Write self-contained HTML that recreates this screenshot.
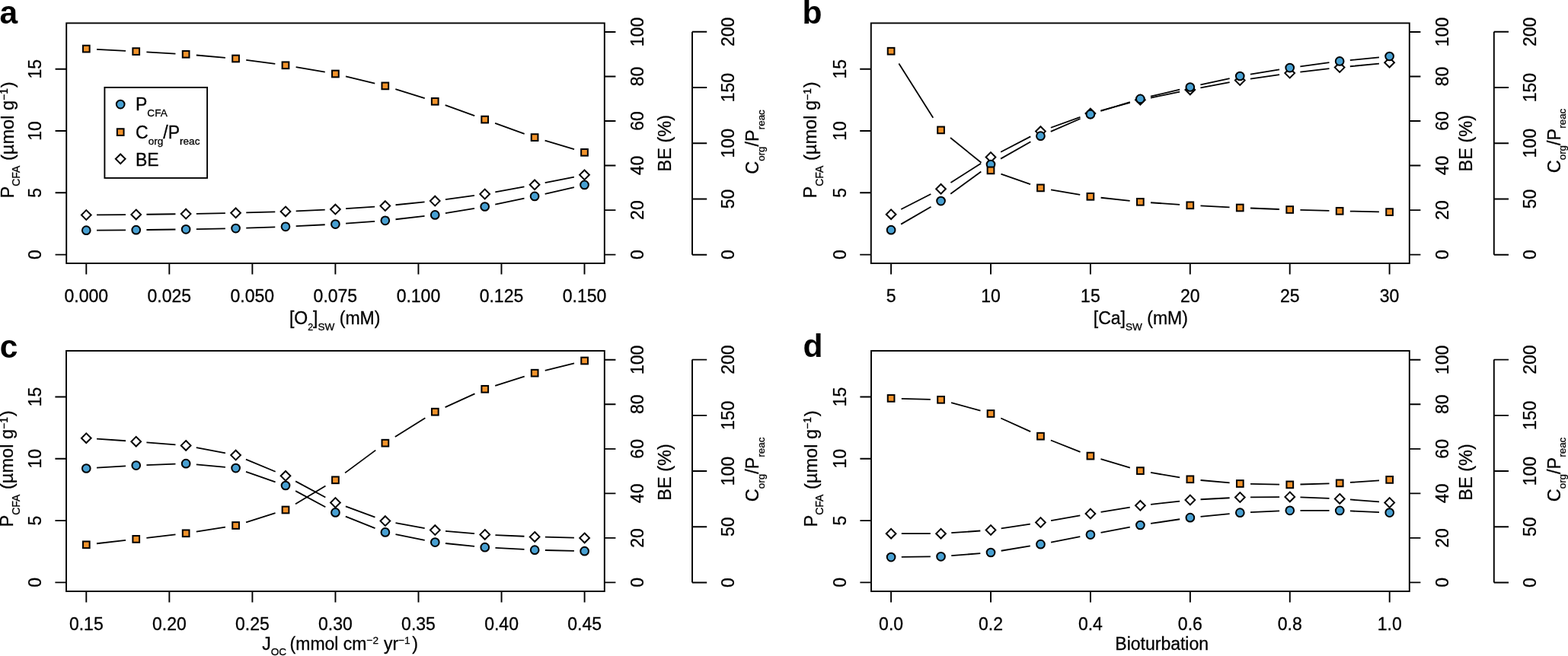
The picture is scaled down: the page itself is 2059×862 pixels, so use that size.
<!DOCTYPE html>
<html><head><meta charset="utf-8"><title>Figure</title>
<style>html,body{margin:0;padding:0;background:#fff;}svg{display:block;}text{font-family:"Liberation Sans",sans-serif;fill:#000;stroke:#000;stroke-width:0.3px;}.t{font-size:23.0px;}.s{font-size:13.6px;}.lab{font-size:42.5px;font-weight:bold;stroke:none;}</style>
</head><body>
<svg width="2059" height="862" viewBox="0 0 2059 862">
<rect width="2059" height="862" fill="#fff"/>
<g id="panel-a">
<rect x="87.2" y="30.4" width="706.6" height="315.6" fill="none" stroke="#000" stroke-width="1.9"/>
<path d="M72.6 334.6H87.2M72.6 253.3H87.2M72.6 172H87.2M72.6 90.7H87.2M793.8 334.6H808.4M793.8 276.08H808.4M793.8 217.56H808.4M793.8 159.04H808.4M793.8 100.52H808.4M793.8 42H808.4M909 334.7V41.8M909 334.7H928.2M909 261.48H928.2M909 188.25H928.2M909 115.03H928.2M909 41.8H928.2M113.3 346V360.6M222.33 346V360.6M331.37 346V360.6M440.4 346V360.6M549.43 346V360.6M658.47 346V360.6M767.5 346V360.6" fill="none" stroke="#000" stroke-width="1.9"/>
<text class="t" text-anchor="middle" transform="translate(54.2 334.6) rotate(-90)">0</text>
<text class="t" text-anchor="middle" transform="translate(54.2 253.3) rotate(-90)">5</text>
<text class="t" text-anchor="middle" transform="translate(54.2 172) rotate(-90)">10</text>
<text class="t" text-anchor="middle" transform="translate(54.2 90.7) rotate(-90)">15</text>
<text class="t" text-anchor="middle" transform="translate(844.6 334.6) rotate(-90)">0</text>
<text class="t" text-anchor="middle" transform="translate(844.6 276.08) rotate(-90)">20</text>
<text class="t" text-anchor="middle" transform="translate(844.6 217.56) rotate(-90)">40</text>
<text class="t" text-anchor="middle" transform="translate(844.6 159.04) rotate(-90)">60</text>
<text class="t" text-anchor="middle" transform="translate(844.6 100.52) rotate(-90)">80</text>
<text class="t" text-anchor="middle" transform="translate(844.6 42) rotate(-90)">100</text>
<text class="t" text-anchor="middle" transform="translate(964 334.7) rotate(-90)">0</text>
<text class="t" text-anchor="middle" transform="translate(964 261.48) rotate(-90)">50</text>
<text class="t" text-anchor="middle" transform="translate(964 188.25) rotate(-90)">100</text>
<text class="t" text-anchor="middle" transform="translate(964 115.03) rotate(-90)">150</text>
<text class="t" text-anchor="middle" transform="translate(964 41.8) rotate(-90)">200</text>
<text class="t" text-anchor="middle" x="113.3" y="396.6">0.000</text>
<text class="t" text-anchor="middle" x="222.33" y="396.6">0.025</text>
<text class="t" text-anchor="middle" x="331.37" y="396.6">0.050</text>
<text class="t" text-anchor="middle" x="440.4" y="396.6">0.075</text>
<text class="t" text-anchor="middle" x="549.43" y="396.6">0.100</text>
<text class="t" text-anchor="middle" x="658.47" y="396.6">0.125</text>
<text class="t" text-anchor="middle" x="767.5" y="396.6">0.150</text>
<path d="M127 282.37L165.02 282.03M192.42 281.73L230.44 281.27M257.84 280.83L295.86 280.07M323.26 279.4L361.28 278.3M388.68 277.31L426.7 275.69M454.09 274.16L492.13 271.54M519.5 269.24L557.56 265.46M584.9 262.2L623 256.9M650.29 252.46L688.45 245.34M715.7 240.09L753.88 232.51" fill="none" stroke="#000" stroke-width="1.8" stroke-linecap="butt"/>
<path d="M113.3 276.15L119.65 282.5L113.3 288.85L106.95 282.5Z" fill="#fff" stroke="#000" stroke-width="2.0" stroke-miterlimit="4"/>
<path d="M178.72 275.55L185.07 281.9L178.72 288.25L172.37 281.9Z" fill="#fff" stroke="#000" stroke-width="2.0" stroke-miterlimit="4"/>
<path d="M244.14 274.75L250.49 281.1L244.14 287.45L237.79 281.1Z" fill="#fff" stroke="#000" stroke-width="2.0" stroke-miterlimit="4"/>
<path d="M309.56 273.45L315.91 279.8L309.56 286.15L303.21 279.8Z" fill="#fff" stroke="#000" stroke-width="2.0" stroke-miterlimit="4"/>
<path d="M374.98 271.55L381.33 277.9L374.98 284.25L368.63 277.9Z" fill="#fff" stroke="#000" stroke-width="2.0" stroke-miterlimit="4"/>
<path d="M440.4 268.75L446.75 275.1L440.4 281.45L434.05 275.1Z" fill="#fff" stroke="#000" stroke-width="2.0" stroke-miterlimit="4"/>
<path d="M505.82 264.25L512.17 270.6L505.82 276.95L499.47 270.6Z" fill="#fff" stroke="#000" stroke-width="2.0" stroke-miterlimit="4"/>
<path d="M571.24 257.75L577.59 264.1L571.24 270.45L564.89 264.1Z" fill="#fff" stroke="#000" stroke-width="2.0" stroke-miterlimit="4"/>
<path d="M636.66 248.65L643.01 255L636.66 261.35L630.31 255Z" fill="#fff" stroke="#000" stroke-width="2.0" stroke-miterlimit="4"/>
<path d="M702.08 236.45L708.43 242.8L702.08 249.15L695.73 242.8Z" fill="#fff" stroke="#000" stroke-width="2.0" stroke-miterlimit="4"/>
<path d="M767.5 223.45L773.85 229.8L767.5 236.15L761.15 229.8Z" fill="#fff" stroke="#000" stroke-width="2.0" stroke-miterlimit="4"/>
<path d="M127 302.6L165.02 302.3M192.42 302.01L230.44 301.49M257.84 301.05L295.86 300.35M323.26 299.62L361.28 298.28M388.67 297.13L426.71 295.27M454.09 293.6L492.13 290.8M519.49 288.25L557.57 283.95M584.88 280.13L623.02 273.77M650.27 268.67L688.47 260.73M715.67 254.78L753.91 246.02" fill="none" stroke="#000" stroke-width="1.8" stroke-linecap="butt"/>
<circle cx="113.3" cy="302.7" r="5.35" fill="#48a0d2" stroke="#000" stroke-width="2.0"/>
<circle cx="178.72" cy="302.2" r="5.35" fill="#48a0d2" stroke="#000" stroke-width="2.0"/>
<circle cx="244.14" cy="301.3" r="5.35" fill="#48a0d2" stroke="#000" stroke-width="2.0"/>
<circle cx="309.56" cy="300.1" r="5.35" fill="#48a0d2" stroke="#000" stroke-width="2.0"/>
<circle cx="374.98" cy="297.8" r="5.35" fill="#48a0d2" stroke="#000" stroke-width="2.0"/>
<circle cx="440.4" cy="294.6" r="5.35" fill="#48a0d2" stroke="#000" stroke-width="2.0"/>
<circle cx="505.82" cy="289.8" r="5.35" fill="#48a0d2" stroke="#000" stroke-width="2.0"/>
<circle cx="571.24" cy="282.4" r="5.35" fill="#48a0d2" stroke="#000" stroke-width="2.0"/>
<circle cx="636.66" cy="271.5" r="5.35" fill="#48a0d2" stroke="#000" stroke-width="2.0"/>
<circle cx="702.08" cy="257.9" r="5.35" fill="#48a0d2" stroke="#000" stroke-width="2.0"/>
<circle cx="767.5" cy="242.9" r="5.35" fill="#48a0d2" stroke="#000" stroke-width="2.0"/>
<path d="M126.99 64.83L165.03 66.87M192.41 68.37L230.45 70.53M257.82 72.49L295.88 75.81M323.22 78.84L361.32 83.96M388.62 88.13L426.76 94.67M453.98 100.3L492.24 109.6M519.32 117.11L557.74 129.09M584.67 138.18L623.23 152.22M650.09 161.92L688.65 175.78M715.59 184.67L753.99 196.23" fill="none" stroke="#000" stroke-width="1.8" stroke-linecap="butt"/>
<rect x="108.95" y="59.75" width="8.7" height="8.7" fill="#f2932b" stroke="#000" stroke-width="2.0"/>
<rect x="174.37" y="63.25" width="8.7" height="8.7" fill="#f2932b" stroke="#000" stroke-width="2.0"/>
<rect x="239.79" y="66.95" width="8.7" height="8.7" fill="#f2932b" stroke="#000" stroke-width="2.0"/>
<rect x="305.21" y="72.65" width="8.7" height="8.7" fill="#f2932b" stroke="#000" stroke-width="2.0"/>
<rect x="370.63" y="81.45" width="8.7" height="8.7" fill="#f2932b" stroke="#000" stroke-width="2.0"/>
<rect x="436.05" y="92.65" width="8.7" height="8.7" fill="#f2932b" stroke="#000" stroke-width="2.0"/>
<rect x="501.47" y="108.55" width="8.7" height="8.7" fill="#f2932b" stroke="#000" stroke-width="2.0"/>
<rect x="566.89" y="128.95" width="8.7" height="8.7" fill="#f2932b" stroke="#000" stroke-width="2.0"/>
<rect x="632.31" y="152.75" width="8.7" height="8.7" fill="#f2932b" stroke="#000" stroke-width="2.0"/>
<rect x="697.73" y="176.25" width="8.7" height="8.7" fill="#f2932b" stroke="#000" stroke-width="2.0"/>
<rect x="763.15" y="195.95" width="8.7" height="8.7" fill="#f2932b" stroke="#000" stroke-width="2.0"/>
</g>
<g id="panel-b">
<rect x="1143.8" y="30.4" width="707" height="315.6" fill="none" stroke="#000" stroke-width="1.9"/>
<path d="M1129.2 334.6H1143.8M1129.2 253.3H1143.8M1129.2 172H1143.8M1129.2 90.7H1143.8M1850.8 334.6H1865.4M1850.8 276.08H1865.4M1850.8 217.56H1865.4M1850.8 159.04H1865.4M1850.8 100.52H1865.4M1850.8 42H1865.4M1961.8 334.7V41.8M1961.8 334.7H1981M1961.8 261.48H1981M1961.8 188.25H1981M1961.8 115.03H1981M1961.8 41.8H1981M1170.1 346V360.6M1301 346V360.6M1431.9 346V360.6M1562.8 346V360.6M1693.7 346V360.6M1824.6 346V360.6" fill="none" stroke="#000" stroke-width="1.9"/>
<text class="t" text-anchor="middle" transform="translate(1110.8 334.6) rotate(-90)">0</text>
<text class="t" text-anchor="middle" transform="translate(1110.8 253.3) rotate(-90)">5</text>
<text class="t" text-anchor="middle" transform="translate(1110.8 172) rotate(-90)">10</text>
<text class="t" text-anchor="middle" transform="translate(1110.8 90.7) rotate(-90)">15</text>
<text class="t" text-anchor="middle" transform="translate(1901.6 334.6) rotate(-90)">0</text>
<text class="t" text-anchor="middle" transform="translate(1901.6 276.08) rotate(-90)">20</text>
<text class="t" text-anchor="middle" transform="translate(1901.6 217.56) rotate(-90)">40</text>
<text class="t" text-anchor="middle" transform="translate(1901.6 159.04) rotate(-90)">60</text>
<text class="t" text-anchor="middle" transform="translate(1901.6 100.52) rotate(-90)">80</text>
<text class="t" text-anchor="middle" transform="translate(1901.6 42) rotate(-90)">100</text>
<text class="t" text-anchor="middle" transform="translate(2016.8 334.7) rotate(-90)">0</text>
<text class="t" text-anchor="middle" transform="translate(2016.8 261.48) rotate(-90)">50</text>
<text class="t" text-anchor="middle" transform="translate(2016.8 188.25) rotate(-90)">100</text>
<text class="t" text-anchor="middle" transform="translate(2016.8 115.03) rotate(-90)">150</text>
<text class="t" text-anchor="middle" transform="translate(2016.8 41.8) rotate(-90)">200</text>
<text class="t" text-anchor="middle" x="1170.1" y="396.6">5</text>
<text class="t" text-anchor="middle" x="1301" y="396.6">10</text>
<text class="t" text-anchor="middle" x="1431.9" y="396.6">15</text>
<text class="t" text-anchor="middle" x="1562.8" y="396.6">20</text>
<text class="t" text-anchor="middle" x="1693.7" y="396.6">25</text>
<text class="t" text-anchor="middle" x="1824.6" y="396.6">30</text>
<path d="M1183.27 274.98L1222.38 255.02M1248.45 240.06L1288.1 214.74M1314.16 199.68L1353.29 179.42M1379.88 167.76L1418.47 153.84M1445.45 145.34L1483.8 134.96M1510.96 128.51L1549.19 120.69M1576.42 115.32L1614.63 108.08M1641.91 103.54L1680.04 98.06M1707.37 94.53L1745.48 90.17M1772.83 87.26L1810.92 83.54" fill="none" stroke="#000" stroke-width="1.8" stroke-linecap="butt"/>
<path d="M1170.1 275.35L1176.45 281.7L1170.1 288.05L1163.75 281.7Z" fill="#fff" stroke="#000" stroke-width="2.0" stroke-miterlimit="4"/>
<path d="M1235.55 241.95L1241.9 248.3L1235.55 254.65L1229.2 248.3Z" fill="#fff" stroke="#000" stroke-width="2.0" stroke-miterlimit="4"/>
<path d="M1301 200.15L1307.35 206.5L1301 212.85L1294.65 206.5Z" fill="#fff" stroke="#000" stroke-width="2.0" stroke-miterlimit="4"/>
<path d="M1366.45 166.25L1372.8 172.6L1366.45 178.95L1360.1 172.6Z" fill="#fff" stroke="#000" stroke-width="2.0" stroke-miterlimit="4"/>
<path d="M1431.9 142.65L1438.25 149L1431.9 155.35L1425.55 149Z" fill="#fff" stroke="#000" stroke-width="2.0" stroke-miterlimit="4"/>
<path d="M1497.35 124.95L1503.7 131.3L1497.35 137.65L1491 131.3Z" fill="#fff" stroke="#000" stroke-width="2.0" stroke-miterlimit="4"/>
<path d="M1562.8 111.55L1569.15 117.9L1562.8 124.25L1556.45 117.9Z" fill="#fff" stroke="#000" stroke-width="2.0" stroke-miterlimit="4"/>
<path d="M1628.25 99.15L1634.6 105.5L1628.25 111.85L1621.9 105.5Z" fill="#fff" stroke="#000" stroke-width="2.0" stroke-miterlimit="4"/>
<path d="M1693.7 89.75L1700.05 96.1L1693.7 102.45L1687.35 96.1Z" fill="#fff" stroke="#000" stroke-width="2.0" stroke-miterlimit="4"/>
<path d="M1759.15 82.25L1765.5 88.6L1759.15 94.95L1752.8 88.6Z" fill="#fff" stroke="#000" stroke-width="2.0" stroke-miterlimit="4"/>
<path d="M1824.6 75.85L1830.95 82.2L1824.6 88.55L1818.25 82.2Z" fill="#fff" stroke="#000" stroke-width="2.0" stroke-miterlimit="4"/>
<path d="M1183.13 294.62L1222.52 271.68M1248.23 254.8L1288.32 225.4M1314.05 208.64L1353.4 186.16M1379.76 172.9L1418.59 156M1445.4 146.01L1483.85 134.09M1510.93 126.7L1549.22 117.7M1576.4 111.49L1614.65 103.01M1641.89 97.73L1680.06 91.37M1707.36 87.28L1745.49 82.22M1772.83 79.06L1810.92 75.34" fill="none" stroke="#000" stroke-width="1.8" stroke-linecap="butt"/>
<circle cx="1170.1" cy="302.2" r="5.35" fill="#48a0d2" stroke="#000" stroke-width="2.0"/>
<circle cx="1235.55" cy="264.1" r="5.35" fill="#48a0d2" stroke="#000" stroke-width="2.0"/>
<circle cx="1301" cy="216.1" r="5.35" fill="#48a0d2" stroke="#000" stroke-width="2.0"/>
<circle cx="1366.45" cy="178.7" r="5.35" fill="#48a0d2" stroke="#000" stroke-width="2.0"/>
<circle cx="1431.9" cy="150.2" r="5.35" fill="#48a0d2" stroke="#000" stroke-width="2.0"/>
<circle cx="1497.35" cy="129.9" r="5.35" fill="#48a0d2" stroke="#000" stroke-width="2.0"/>
<circle cx="1562.8" cy="114.5" r="5.35" fill="#48a0d2" stroke="#000" stroke-width="2.0"/>
<circle cx="1628.25" cy="100" r="5.35" fill="#48a0d2" stroke="#000" stroke-width="2.0"/>
<circle cx="1693.7" cy="89.1" r="5.35" fill="#48a0d2" stroke="#000" stroke-width="2.0"/>
<circle cx="1759.15" cy="80.4" r="5.35" fill="#48a0d2" stroke="#000" stroke-width="2.0"/>
<circle cx="1824.6" cy="74" r="5.35" fill="#48a0d2" stroke="#000" stroke-width="2.0"/>
<path d="M1180.35 83.45L1225.3 154.65M1248.03 181.01L1288.52 213.79M1314.44 228.62L1353.01 242.18M1380.09 249.28L1418.26 255.92M1445.58 259.76L1483.67 263.84M1511.04 266.24L1549.11 268.86M1576.49 270.47L1614.56 272.33M1641.95 273.52L1680 274.98M1707.4 275.88L1745.45 276.92M1772.85 277.57L1810.9 278.33" fill="none" stroke="#000" stroke-width="1.8" stroke-linecap="butt"/>
<rect x="1165.75" y="62.85" width="8.7" height="8.7" fill="#f2932b" stroke="#000" stroke-width="2.0"/>
<rect x="1231.2" y="166.55" width="8.7" height="8.7" fill="#f2932b" stroke="#000" stroke-width="2.0"/>
<rect x="1296.65" y="219.55" width="8.7" height="8.7" fill="#f2932b" stroke="#000" stroke-width="2.0"/>
<rect x="1362.1" y="242.55" width="8.7" height="8.7" fill="#f2932b" stroke="#000" stroke-width="2.0"/>
<rect x="1427.55" y="253.95" width="8.7" height="8.7" fill="#f2932b" stroke="#000" stroke-width="2.0"/>
<rect x="1493" y="260.95" width="8.7" height="8.7" fill="#f2932b" stroke="#000" stroke-width="2.0"/>
<rect x="1558.45" y="265.45" width="8.7" height="8.7" fill="#f2932b" stroke="#000" stroke-width="2.0"/>
<rect x="1623.9" y="268.65" width="8.7" height="8.7" fill="#f2932b" stroke="#000" stroke-width="2.0"/>
<rect x="1689.35" y="271.15" width="8.7" height="8.7" fill="#f2932b" stroke="#000" stroke-width="2.0"/>
<rect x="1754.8" y="272.95" width="8.7" height="8.7" fill="#f2932b" stroke="#000" stroke-width="2.0"/>
<rect x="1820.25" y="274.25" width="8.7" height="8.7" fill="#f2932b" stroke="#000" stroke-width="2.0"/>
</g>
<g id="panel-c">
<rect x="87" y="461" width="706.8" height="316" fill="none" stroke="#000" stroke-width="1.9"/>
<path d="M72.4 765.4H87M72.4 684.1H87M72.4 602.8H87M72.4 521.5H87M793.8 765.4H808.4M793.8 706.88H808.4M793.8 648.36H808.4M793.8 589.84H808.4M793.8 531.32H808.4M793.8 472.8H808.4M909 765.5V472.6M909 765.5H928.2M909 692.28H928.2M909 619.05H928.2M909 545.83H928.2M909 472.6H928.2M113.3 777V791.6M222.35 777V791.6M331.4 777V791.6M440.45 777V791.6M549.5 777V791.6M658.55 777V791.6M767.6 777V791.6" fill="none" stroke="#000" stroke-width="1.9"/>
<text class="t" text-anchor="middle" transform="translate(54 765.4) rotate(-90)">0</text>
<text class="t" text-anchor="middle" transform="translate(54 684.1) rotate(-90)">5</text>
<text class="t" text-anchor="middle" transform="translate(54 602.8) rotate(-90)">10</text>
<text class="t" text-anchor="middle" transform="translate(54 521.5) rotate(-90)">15</text>
<text class="t" text-anchor="middle" transform="translate(844.6 765.4) rotate(-90)">0</text>
<text class="t" text-anchor="middle" transform="translate(844.6 706.88) rotate(-90)">20</text>
<text class="t" text-anchor="middle" transform="translate(844.6 648.36) rotate(-90)">40</text>
<text class="t" text-anchor="middle" transform="translate(844.6 589.84) rotate(-90)">60</text>
<text class="t" text-anchor="middle" transform="translate(844.6 531.32) rotate(-90)">80</text>
<text class="t" text-anchor="middle" transform="translate(844.6 472.8) rotate(-90)">100</text>
<text class="t" text-anchor="middle" transform="translate(964 765.5) rotate(-90)">0</text>
<text class="t" text-anchor="middle" transform="translate(964 692.28) rotate(-90)">50</text>
<text class="t" text-anchor="middle" transform="translate(964 619.05) rotate(-90)">100</text>
<text class="t" text-anchor="middle" transform="translate(964 545.83) rotate(-90)">150</text>
<text class="t" text-anchor="middle" transform="translate(964 472.6) rotate(-90)">200</text>
<text class="t" text-anchor="middle" x="113.3" y="827.6">0.15</text>
<text class="t" text-anchor="middle" x="222.35" y="827.6">0.20</text>
<text class="t" text-anchor="middle" x="331.4" y="827.6">0.25</text>
<text class="t" text-anchor="middle" x="440.45" y="827.6">0.30</text>
<text class="t" text-anchor="middle" x="549.5" y="827.6">0.35</text>
<text class="t" text-anchor="middle" x="658.55" y="827.6">0.40</text>
<text class="t" text-anchor="middle" x="767.6" y="827.6">0.45</text>
<path d="M126.99 576.64L165.04 579.26M192.42 581.29L230.47 584.31M257.78 588.04L295.97 595.46M322.93 603.65L361.68 619.75M388.14 632.36L427.33 653.44M453.87 665.44L492.46 679.66M519.51 687.1L557.68 694.1M584.99 697.81L623.06 701.19M650.44 703.03L688.47 704.77M715.87 705.71L753.9 706.59" fill="none" stroke="#000" stroke-width="1.8" stroke-linecap="butt"/>
<path d="M113.3 569.35L119.65 575.7L113.3 582.05L106.95 575.7Z" fill="#fff" stroke="#000" stroke-width="2.0" stroke-miterlimit="4"/>
<path d="M178.73 573.85L185.08 580.2L178.73 586.55L172.38 580.2Z" fill="#fff" stroke="#000" stroke-width="2.0" stroke-miterlimit="4"/>
<path d="M244.16 579.05L250.51 585.4L244.16 591.75L237.81 585.4Z" fill="#fff" stroke="#000" stroke-width="2.0" stroke-miterlimit="4"/>
<path d="M309.59 591.75L315.94 598.1L309.59 604.45L303.24 598.1Z" fill="#fff" stroke="#000" stroke-width="2.0" stroke-miterlimit="4"/>
<path d="M375.02 618.95L381.37 625.3L375.02 631.65L368.67 625.3Z" fill="#fff" stroke="#000" stroke-width="2.0" stroke-miterlimit="4"/>
<path d="M440.45 654.15L446.8 660.5L440.45 666.85L434.1 660.5Z" fill="#fff" stroke="#000" stroke-width="2.0" stroke-miterlimit="4"/>
<path d="M505.88 678.25L512.23 684.6L505.88 690.95L499.53 684.6Z" fill="#fff" stroke="#000" stroke-width="2.0" stroke-miterlimit="4"/>
<path d="M571.31 690.25L577.66 696.6L571.31 702.95L564.96 696.6Z" fill="#fff" stroke="#000" stroke-width="2.0" stroke-miterlimit="4"/>
<path d="M636.74 696.05L643.09 702.4L636.74 708.75L630.39 702.4Z" fill="#fff" stroke="#000" stroke-width="2.0" stroke-miterlimit="4"/>
<path d="M702.17 699.05L708.52 705.4L702.17 711.75L695.82 705.4Z" fill="#fff" stroke="#000" stroke-width="2.0" stroke-miterlimit="4"/>
<path d="M767.6 700.55L773.95 706.9L767.6 713.25L761.25 706.9Z" fill="#fff" stroke="#000" stroke-width="2.0" stroke-miterlimit="4"/>
<path d="M126.99 614.68L165.04 612.42M192.43 611.1L230.46 609.7M257.84 610.43L295.91 613.87M323.03 619.81L361.58 633.29M388.13 645.09L427.34 666.31M453.82 678.71L492.51 694.09M519.49 702.15L557.7 709.85M584.99 713.98L623.06 717.82M650.43 719.93L688.48 721.97M715.87 723.01L753.9 723.89" fill="none" stroke="#000" stroke-width="1.8" stroke-linecap="butt"/>
<circle cx="113.3" cy="615.5" r="5.35" fill="#48a0d2" stroke="#000" stroke-width="2.0"/>
<circle cx="178.73" cy="611.6" r="5.35" fill="#48a0d2" stroke="#000" stroke-width="2.0"/>
<circle cx="244.16" cy="609.2" r="5.35" fill="#48a0d2" stroke="#000" stroke-width="2.0"/>
<circle cx="309.59" cy="615.1" r="5.35" fill="#48a0d2" stroke="#000" stroke-width="2.0"/>
<circle cx="375.02" cy="638" r="5.35" fill="#48a0d2" stroke="#000" stroke-width="2.0"/>
<circle cx="440.45" cy="673.4" r="5.35" fill="#48a0d2" stroke="#000" stroke-width="2.0"/>
<circle cx="505.88" cy="699.4" r="5.35" fill="#48a0d2" stroke="#000" stroke-width="2.0"/>
<circle cx="571.31" cy="712.6" r="5.35" fill="#48a0d2" stroke="#000" stroke-width="2.0"/>
<circle cx="636.74" cy="719.2" r="5.35" fill="#48a0d2" stroke="#000" stroke-width="2.0"/>
<circle cx="702.17" cy="722.7" r="5.35" fill="#48a0d2" stroke="#000" stroke-width="2.0"/>
<circle cx="767.6" cy="724.2" r="5.35" fill="#48a0d2" stroke="#000" stroke-width="2.0"/>
<path d="M126.97 714.25L165.06 709.95M192.4 706.81L230.49 702.39M257.81 698.65L295.94 692.65M323.08 686.27L361.53 674.23M388.01 662.22L427.46 638.58M453.1 621.4L493.23 591.6M518.81 574.1L558.38 549.3M584.58 535.13L623.47 517.37M650.22 506.95L688.69 494.55M715.74 486.84L754.03 477.36" fill="none" stroke="#000" stroke-width="1.8" stroke-linecap="butt"/>
<rect x="108.95" y="711.45" width="8.7" height="8.7" fill="#f2932b" stroke="#000" stroke-width="2.0"/>
<rect x="174.38" y="704.05" width="8.7" height="8.7" fill="#f2932b" stroke="#000" stroke-width="2.0"/>
<rect x="239.81" y="696.45" width="8.7" height="8.7" fill="#f2932b" stroke="#000" stroke-width="2.0"/>
<rect x="305.24" y="686.15" width="8.7" height="8.7" fill="#f2932b" stroke="#000" stroke-width="2.0"/>
<rect x="370.67" y="665.65" width="8.7" height="8.7" fill="#f2932b" stroke="#000" stroke-width="2.0"/>
<rect x="436.1" y="626.45" width="8.7" height="8.7" fill="#f2932b" stroke="#000" stroke-width="2.0"/>
<rect x="501.53" y="577.85" width="8.7" height="8.7" fill="#f2932b" stroke="#000" stroke-width="2.0"/>
<rect x="566.96" y="536.85" width="8.7" height="8.7" fill="#f2932b" stroke="#000" stroke-width="2.0"/>
<rect x="632.39" y="506.95" width="8.7" height="8.7" fill="#f2932b" stroke="#000" stroke-width="2.0"/>
<rect x="697.82" y="485.85" width="8.7" height="8.7" fill="#f2932b" stroke="#000" stroke-width="2.0"/>
<rect x="763.25" y="469.65" width="8.7" height="8.7" fill="#f2932b" stroke="#000" stroke-width="2.0"/>
</g>
<g id="panel-d">
<rect x="1144" y="461" width="706.8" height="316" fill="none" stroke="#000" stroke-width="1.9"/>
<path d="M1129.4 765.4H1144M1129.4 684.1H1144M1129.4 602.8H1144M1129.4 521.5H1144M1850.8 765.4H1865.4M1850.8 706.88H1865.4M1850.8 648.36H1865.4M1850.8 589.84H1865.4M1850.8 531.32H1865.4M1850.8 472.8H1865.4M1961.8 765.5V472.6M1961.8 765.5H1981M1961.8 692.28H1981M1961.8 619.05H1981M1961.8 545.83H1981M1961.8 472.6H1981M1170.1 777V791.6M1301.02 777V791.6M1431.94 777V791.6M1562.86 777V791.6M1693.78 777V791.6M1824.7 777V791.6" fill="none" stroke="#000" stroke-width="1.9"/>
<text class="t" text-anchor="middle" transform="translate(1111 765.4) rotate(-90)">0</text>
<text class="t" text-anchor="middle" transform="translate(1111 684.1) rotate(-90)">5</text>
<text class="t" text-anchor="middle" transform="translate(1111 602.8) rotate(-90)">10</text>
<text class="t" text-anchor="middle" transform="translate(1111 521.5) rotate(-90)">15</text>
<text class="t" text-anchor="middle" transform="translate(1901.6 765.4) rotate(-90)">0</text>
<text class="t" text-anchor="middle" transform="translate(1901.6 706.88) rotate(-90)">20</text>
<text class="t" text-anchor="middle" transform="translate(1901.6 648.36) rotate(-90)">40</text>
<text class="t" text-anchor="middle" transform="translate(1901.6 589.84) rotate(-90)">60</text>
<text class="t" text-anchor="middle" transform="translate(1901.6 531.32) rotate(-90)">80</text>
<text class="t" text-anchor="middle" transform="translate(1901.6 472.8) rotate(-90)">100</text>
<text class="t" text-anchor="middle" transform="translate(2016.8 765.5) rotate(-90)">0</text>
<text class="t" text-anchor="middle" transform="translate(2016.8 692.28) rotate(-90)">50</text>
<text class="t" text-anchor="middle" transform="translate(2016.8 619.05) rotate(-90)">100</text>
<text class="t" text-anchor="middle" transform="translate(2016.8 545.83) rotate(-90)">150</text>
<text class="t" text-anchor="middle" transform="translate(2016.8 472.6) rotate(-90)">200</text>
<text class="t" text-anchor="middle" x="1170.1" y="827.6">0.0</text>
<text class="t" text-anchor="middle" x="1301.02" y="827.6">0.2</text>
<text class="t" text-anchor="middle" x="1431.94" y="827.6">0.4</text>
<text class="t" text-anchor="middle" x="1562.86" y="827.6">0.6</text>
<text class="t" text-anchor="middle" x="1693.78" y="827.6">0.8</text>
<text class="t" text-anchor="middle" x="1824.7" y="827.6">1.0</text>
<path d="M1183.8 701.2L1221.86 701.2M1249.25 700.22L1287.33 697.48M1314.67 694.41L1352.83 688.59M1380.11 684.1L1418.31 677.4M1445.58 672.77L1483.76 666.53M1511.07 662.78L1549.19 658.52M1576.55 656.27L1614.63 654.23M1642.02 653.37L1680.08 653.03M1707.48 653.42L1745.54 654.88M1772.93 656.47L1811.01 659.43" fill="none" stroke="#000" stroke-width="1.8" stroke-linecap="butt"/>
<path d="M1170.1 694.85L1176.45 701.2L1170.1 707.55L1163.75 701.2Z" fill="#fff" stroke="#000" stroke-width="2.0" stroke-miterlimit="4"/>
<path d="M1235.56 694.85L1241.91 701.2L1235.56 707.55L1229.21 701.2Z" fill="#fff" stroke="#000" stroke-width="2.0" stroke-miterlimit="4"/>
<path d="M1301.02 690.15L1307.37 696.5L1301.02 702.85L1294.67 696.5Z" fill="#fff" stroke="#000" stroke-width="2.0" stroke-miterlimit="4"/>
<path d="M1366.48 680.15L1372.83 686.5L1366.48 692.85L1360.13 686.5Z" fill="#fff" stroke="#000" stroke-width="2.0" stroke-miterlimit="4"/>
<path d="M1431.94 668.65L1438.29 675L1431.94 681.35L1425.59 675Z" fill="#fff" stroke="#000" stroke-width="2.0" stroke-miterlimit="4"/>
<path d="M1497.4 657.95L1503.75 664.3L1497.4 670.65L1491.05 664.3Z" fill="#fff" stroke="#000" stroke-width="2.0" stroke-miterlimit="4"/>
<path d="M1562.86 650.65L1569.21 657L1562.86 663.35L1556.51 657Z" fill="#fff" stroke="#000" stroke-width="2.0" stroke-miterlimit="4"/>
<path d="M1628.32 647.15L1634.67 653.5L1628.32 659.85L1621.97 653.5Z" fill="#fff" stroke="#000" stroke-width="2.0" stroke-miterlimit="4"/>
<path d="M1693.78 646.55L1700.13 652.9L1693.78 659.25L1687.43 652.9Z" fill="#fff" stroke="#000" stroke-width="2.0" stroke-miterlimit="4"/>
<path d="M1759.24 649.05L1765.59 655.4L1759.24 661.75L1752.89 655.4Z" fill="#fff" stroke="#000" stroke-width="2.0" stroke-miterlimit="4"/>
<path d="M1824.7 654.15L1831.05 660.5L1824.7 666.85L1818.35 660.5Z" fill="#fff" stroke="#000" stroke-width="2.0" stroke-miterlimit="4"/>
<path d="M1183.8 731.93L1221.86 731.47M1249.25 730.19L1287.33 727.11M1314.66 723.75L1352.84 717.45M1380.1 712.58L1418.32 705.22M1445.56 699.98L1483.78 692.62M1511.05 687.96L1549.21 682.24M1576.54 678.84L1614.64 675.06M1642.02 673.09L1680.08 671.41M1707.48 670.82L1745.54 670.88M1772.94 671.46L1811 673.04" fill="none" stroke="#000" stroke-width="1.8" stroke-linecap="butt"/>
<circle cx="1170.1" cy="732.1" r="5.35" fill="#48a0d2" stroke="#000" stroke-width="2.0"/>
<circle cx="1235.56" cy="731.3" r="5.35" fill="#48a0d2" stroke="#000" stroke-width="2.0"/>
<circle cx="1301.02" cy="726" r="5.35" fill="#48a0d2" stroke="#000" stroke-width="2.0"/>
<circle cx="1366.48" cy="715.2" r="5.35" fill="#48a0d2" stroke="#000" stroke-width="2.0"/>
<circle cx="1431.94" cy="702.6" r="5.35" fill="#48a0d2" stroke="#000" stroke-width="2.0"/>
<circle cx="1497.4" cy="690" r="5.35" fill="#48a0d2" stroke="#000" stroke-width="2.0"/>
<circle cx="1562.86" cy="680.2" r="5.35" fill="#48a0d2" stroke="#000" stroke-width="2.0"/>
<circle cx="1628.32" cy="673.7" r="5.35" fill="#48a0d2" stroke="#000" stroke-width="2.0"/>
<circle cx="1693.78" cy="670.8" r="5.35" fill="#48a0d2" stroke="#000" stroke-width="2.0"/>
<circle cx="1759.24" cy="670.9" r="5.35" fill="#48a0d2" stroke="#000" stroke-width="2.0"/>
<circle cx="1824.7" cy="673.6" r="5.35" fill="#48a0d2" stroke="#000" stroke-width="2.0"/>
<path d="M1183.8 523.8L1221.86 524.9M1249.1 529.06L1287.48 539.74M1314.3 549.52L1353.2 567.18M1379.86 578.49L1418.56 593.81M1445.45 603.13L1483.89 614.57M1511.04 620.93L1549.22 627.47M1576.54 630.99L1614.64 634.31M1642.02 635.79L1680.08 636.61M1707.48 636.48L1745.54 635.32M1772.93 633.96L1811.01 631.34" fill="none" stroke="#000" stroke-width="1.8" stroke-linecap="butt"/>
<rect x="1165.75" y="519.05" width="8.7" height="8.7" fill="#f2932b" stroke="#000" stroke-width="2.0"/>
<rect x="1231.21" y="520.95" width="8.7" height="8.7" fill="#f2932b" stroke="#000" stroke-width="2.0"/>
<rect x="1296.67" y="539.15" width="8.7" height="8.7" fill="#f2932b" stroke="#000" stroke-width="2.0"/>
<rect x="1362.13" y="568.85" width="8.7" height="8.7" fill="#f2932b" stroke="#000" stroke-width="2.0"/>
<rect x="1427.59" y="594.75" width="8.7" height="8.7" fill="#f2932b" stroke="#000" stroke-width="2.0"/>
<rect x="1493.05" y="614.25" width="8.7" height="8.7" fill="#f2932b" stroke="#000" stroke-width="2.0"/>
<rect x="1558.51" y="625.45" width="8.7" height="8.7" fill="#f2932b" stroke="#000" stroke-width="2.0"/>
<rect x="1623.97" y="631.15" width="8.7" height="8.7" fill="#f2932b" stroke="#000" stroke-width="2.0"/>
<rect x="1689.43" y="632.55" width="8.7" height="8.7" fill="#f2932b" stroke="#000" stroke-width="2.0"/>
<rect x="1754.89" y="630.55" width="8.7" height="8.7" fill="#f2932b" stroke="#000" stroke-width="2.0"/>
<rect x="1820.35" y="626.05" width="8.7" height="8.7" fill="#f2932b" stroke="#000" stroke-width="2.0"/>
</g>
<text class="lab" x="-0.5" y="30.8">a</text>
<text class="lab" x="1053.4" y="30.8">b</text>
<text class="lab" x="-0.3" y="469.6">c</text>
<text class="lab" x="1054.4" y="469.4">d</text>
<text class="t" style="font-size:23.6px" transform="translate(17.6 260.6) rotate(-90)">P<tspan class="s" style="font-size:14px" dy="8.2">CFA</tspan><tspan dy="-8.2"> (µmol g</tspan><tspan class="s" style="font-size:14px" dy="-7.4">−1</tspan><tspan dy="7.4" dx="0.8">)</tspan></text>
<text class="t" style="font-size:23.5px" text-anchor="middle" transform="translate(881.2 188.2) rotate(-90)">BE (%)</text>
<text class="t" style="font-size:23.5px" transform="translate(996.4 228.8) rotate(-90)">C<tspan class="s" style="font-size:13.4px" dy="7.2">org</tspan><tspan dy="-7.2">/P</tspan><tspan class="s" style="font-size:13.4px" dy="7.2">reac</tspan></text>
<text class="t" style="font-size:23.6px" transform="translate(1072.3 260.6) rotate(-90)">P<tspan class="s" style="font-size:14px" dy="8.2">CFA</tspan><tspan dy="-8.2"> (µmol g</tspan><tspan class="s" style="font-size:14px" dy="-7.4">−1</tspan><tspan dy="7.4" dx="0.8">)</tspan></text>
<text class="t" style="font-size:23.5px" text-anchor="middle" transform="translate(1933.2 188.2) rotate(-90)">BE (%)</text>
<text class="t" style="font-size:23.5px" transform="translate(2049.2 227.3) rotate(-90)">C<tspan class="s" style="font-size:13.4px" dy="7.2">org</tspan><tspan dy="-7.2">/P</tspan><tspan class="s" style="font-size:13.4px" dy="7.2">reac</tspan></text>
<text class="t" style="font-size:23.6px" transform="translate(17.4 692.6) rotate(-90)">P<tspan class="s" style="font-size:14px" dy="8.2">CFA</tspan><tspan dy="-8.2"> (µmol g</tspan><tspan class="s" style="font-size:14px" dy="-7.4">−1</tspan><tspan dy="7.4" dx="0.8">)</tspan></text>
<text class="t" style="font-size:23.5px" text-anchor="middle" transform="translate(881.2 620.5) rotate(-90)">BE (%)</text>
<text class="t" style="font-size:23.5px" transform="translate(996.4 659.2) rotate(-90)">C<tspan class="s" style="font-size:13.4px" dy="7.2">org</tspan><tspan dy="-7.2">/P</tspan><tspan class="s" style="font-size:13.4px" dy="7.2">reac</tspan></text>
<text class="t" style="font-size:23.6px" transform="translate(1072.5 692.6) rotate(-90)">P<tspan class="s" style="font-size:14px" dy="8.2">CFA</tspan><tspan dy="-8.2"> (µmol g</tspan><tspan class="s" style="font-size:14px" dy="-7.4">−1</tspan><tspan dy="7.4" dx="0.8">)</tspan></text>
<text class="t" style="font-size:23.5px" text-anchor="middle" transform="translate(1933.2 620.5) rotate(-90)">BE (%)</text>
<text class="t" style="font-size:23.5px" transform="translate(2049.2 659.3) rotate(-90)">C<tspan class="s" style="font-size:13.4px" dy="7.2">org</tspan><tspan dy="-7.2">/P</tspan><tspan class="s" style="font-size:13.4px" dy="7.2">reac</tspan></text>
<text class="t" x="379.9" y="425.8">[O<tspan class="s" style="font-size:12.4px" dy="8">2</tspan><tspan dy="-8">]</tspan><tspan class="s" dy="8">SW</tspan><tspan dy="-8"> (mM)</tspan></text>
<text class="t" x="1435.8" y="426.4">[Ca]<tspan class="s" dy="8">SW</tspan><tspan dy="-8"> (mM)</tspan></text>
<text class="t" x="344.3" y="853.6">J<tspan class="s" dy="7.2">OC</tspan><tspan dy="-7.2" dx="-2"> (mmol cm</tspan><tspan class="s" dy="-7.6">−2</tspan><tspan dy="7.6" dx="0.6"> yr</tspan><tspan class="s" dy="-7.6">−1</tspan><tspan dy="7.6" dx="2.6">)</tspan></text>
<text class="t" x="1464.3" y="853.8">Bioturbation</text>
<rect x="137.4" y="114.9" width="134.7" height="119.0" fill="#fff" stroke="#000" stroke-width="1.9"/>
<circle cx="158.2" cy="137.1" r="5.35" fill="#48a0d2" stroke="#000" stroke-width="2.0"/>
<rect x="153.85" y="169.25" width="8.7" height="8.7" fill="#f2932b" stroke="#000" stroke-width="2.0"/>
<path d="M158.2 202.45L164.55 208.8L158.2 215.15L151.85 208.8Z" fill="#fff" stroke="#000" stroke-width="2.0" stroke-miterlimit="4"/>
<text class="t" x="178" y="144.9">P<tspan class="s" dy="8">CFA</tspan></text>
<text class="t" x="178" y="181.6">C<tspan class="s" dy="8">org</tspan><tspan dy="-8">/P</tspan><tspan class="s" dy="8">reac</tspan></text>
<text class="t" x="178" y="217.6">BE</text>
</svg>
</body></html>
